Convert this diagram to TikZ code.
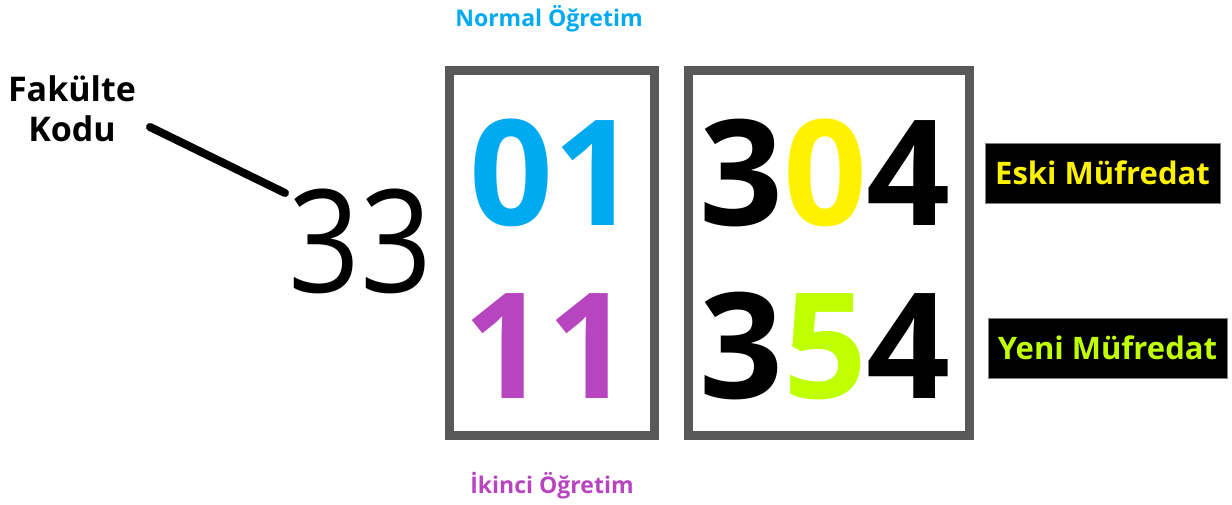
\documentclass[tikz,border=0pt]{standalone}
\usepackage{fontspec}
\setmainfont{Open Sans}
\usetikzlibrary{positioning}
\definecolor{kutugri}{RGB}{89,89,89}
\definecolor{normalmavi}{RGB}{0,170,240}
\definecolor{ikincimor}{RGB}{184,69,192}
\definecolor{eskisari}{RGB}{255,242,0}
\definecolor{yeniyesil}{RGB}{192,255,0}

\begin{document}
\begin{tikzpicture}[x=1pt,y=-1pt,
  kutu/.style={draw=kutugri,line width=9pt},
  rakam/.style={font=\fontsize{147}{147}\selectfont\bfseries,inner sep=0pt,anchor=base},
  baslik/.style={font=\fontsize{23}{26}\selectfont\bfseries,inner sep=0pt},
  mufredat/.style={fill=black,draw=gray,thin,minimum height=60pt,inner sep=0pt,
                   font=\fontsize{31}{36}\selectfont\bfseries},
  kol/.style={line width=8pt,line cap=round}]
  \useasboundingbox (0,0) rectangle (1232,504);
  % sol taraf
  \node[font=\fontsize{34}{40}\selectfont\bfseries,align=center,inner sep=0pt] (fakulte) at (72,109) {Fakülte\\Kodu};
  \node[font=\fontsize{143}{143}\selectfont,inner sep=0pt,anchor=base,xscale=0.88] (otuzuc) at (360,292) {33};
  \coordinate (kolbas) at (150,127);
  \coordinate (kolson) at (285,193);
  \draw[kol] (kolbas) -- (kolson);
  % kutular
  \draw[kutu] (449.5,70.5) rectangle (654.5,435.5);
  \draw[kutu] (688.5,70.5) rectangle (969.5,435.5);
  \node[rakam,text=normalmavi] (normal) at (553,225) {01};
  \node[rakam,text=ikincimor]  (ikinci) at (547,398) {11};
  \node[rakam] (eski) at (825,225) {3\textcolor{eskisari}{0}4};
  \node[rakam] (yeni) at (825,398) {3\textcolor{yeniyesil}{5}4};
  % etiketler
  \node[baslik,text=normalmavi] (normaletiket) at (549,19) {Normal Öğretim};
  \node[baslik,text=ikincimor]  (ikincietiket) at (552,486) {İkinci Öğretim};
  \node[mufredat,text=eskisari,minimum width=235pt]  (eskietiket) at (1102.5,173) {Eski Müfredat};
  \node[mufredat,text=yeniyesil,minimum width=239pt] (yenietiket) at (1107.5,348) {Yeni Müfredat};
\end{tikzpicture}
\end{document}
